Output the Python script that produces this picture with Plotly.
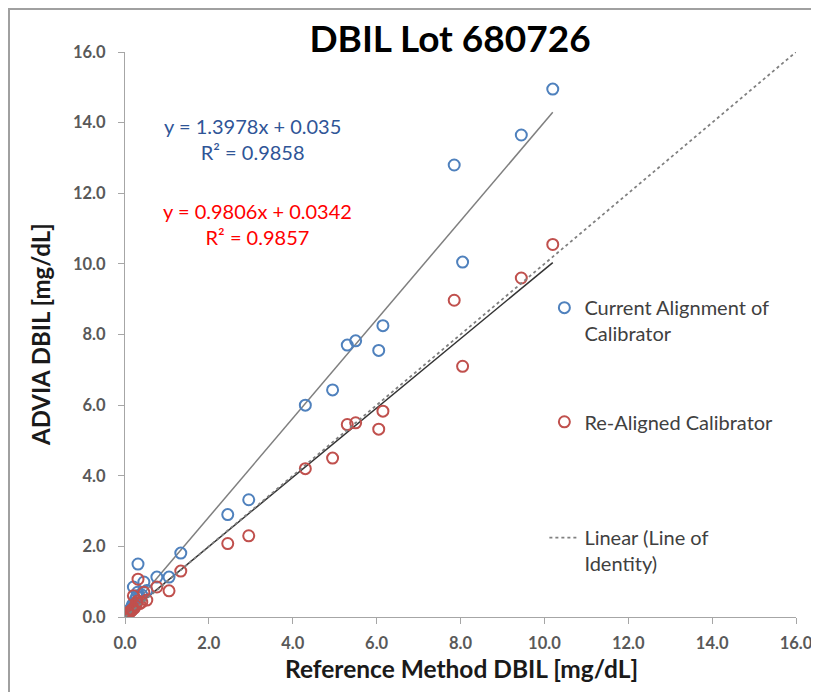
import plotly.graph_objects as go

# ---- data ----
ref_x = [10.2, 9.45, 7.85, 8.05, 6.15, 5.3, 5.5, 6.05, 4.95, 4.3, 2.95, 2.45, 1.33, 1.05, 0.76, 0.31,
         0.45, 0.2, 0.52, 0.05, 0.07, 0.08, 0.1, 0.12, 0.13, 0.15, 0.17, 0.18, 0.22, 0.25, 0.28, 0.3, 0.35, 0.4]
current_y = [14.95, 13.65, 12.8, 10.05, 8.25, 7.7, 7.82, 7.55, 6.43, 6.0, 3.32, 2.9, 1.81, 1.13, 1.13, 1.5,
             0.99, 0.85, 0.75, 0.1, 0.12, 0.15, 0.17, 0.2, 0.22, 0.25, 0.3, 0.35, 0.38, 0.5, 0.6, 0.7, 0.55, 0.62]
realigned_y = [10.55, 9.6, 8.97, 7.1, 5.83, 5.45, 5.5, 5.32, 4.5, 4.2, 2.3, 2.08, 1.3, 0.74, 0.85, 1.07,
               0.7, 0.6, 0.48, 0.08, 0.1, 0.12, 0.13, 0.15, 0.16, 0.18, 0.2, 0.22, 0.25, 0.32, 0.4, 0.45, 0.38, 0.42]

fit_current = (1.3978, 0.035, 0.9858)
fit_realigned = (0.9806, 0.0342, 0.9857)
identity_x = [0.0, 16.0]

tick_vals = [0, 2, 4, 6, 8, 10, 12, 14, 16]
tick_text = ["0.0", "2.0", "4.0", "6.0", "8.0", "10.0", "12.0", "14.0", "16.0"]

title_text = "DBIL Lot 680726"
x_title = "Reference Method DBIL [mg/dL]"
y_title = "ADVIA DBIL [mg/dL]"

BLUE = "#4F81BD"
RED = "#C0504D"
FONT = "Lato, 'Open Sans', sans-serif"

# page body has an 8px margin on every side; figure sized so the page does not overflow
OFF = 8
W, H = 819 - 2 * OFF, 700 - 2 * OFF
# target plot area in screen pixels: x 125..796, y 52..617
L, T = 125 - OFF, 52 - OFF
R = (OFF + W) - 796
B = (OFF + H) - 617
PW, PH = W - L - R, H - T - B

xmin, xmax = min(ref_x), max(ref_x)

fig = go.Figure()

# trendlines (no legend)
for (m, b, r2), col in [(fit_current, "#7F7F7F"), (fit_realigned, "#333333")]:
    fig.add_trace(go.Scatter(x=[xmin, xmax], y=[m * xmin + b, m * xmax + b], mode="lines",
                             line=dict(color=col, width=1.5), showlegend=False, hoverinfo="skip"))

fig.add_trace(go.Scatter(x=ref_x, y=current_y, mode="markers", name="Current Alignment of<br>Calibrator",
                         marker=dict(symbol="circle-open", size=11, color=BLUE, line=dict(width=2)),
                         legend="legend"))
fig.add_trace(go.Scatter(x=ref_x, y=realigned_y, mode="markers", name="Re-Aligned Calibrator",
                         marker=dict(symbol="circle-open", size=11, color=RED, line=dict(width=2)),
                         legend="legend2"))
fig.add_trace(go.Scatter(x=identity_x, y=identity_x, mode="lines", name="Linear (Line of<br>Identity)",
                         line=dict(color="#808080", width=1.8, dash="dot"), legend="legend3"))

axis_common = dict(range=[0, 16], tickvals=tick_vals, ticktext=tick_text, showgrid=False, zeroline=False,
                   showline=True, linecolor="#A6A6A6", linewidth=1.3, ticks="outside", ticklen=6,
                   tickcolor="#A6A6A6", automargin=False, ticklabeloverflow="allow",
                   tickfont=dict(family=FONT, size=16.5, color="#595959", weight="bold"))

leg_common = dict(font=dict(family=FONT, size=20, color="#404040"), bgcolor="rgba(0,0,0,0)",
                  xanchor="left", yanchor="top", valign="top", x=0.625)

fig.update_layout(
    width=W, height=H,
    margin=dict(l=L, r=R, t=T, b=B, autoexpand=False),
    paper_bgcolor="white", plot_bgcolor="white",
    title=dict(text="<b>" + title_text + "</b>", x=(450 - OFF) / W, xanchor="center",
               y=1 - (39 - OFF) / H, yanchor="middle", font=dict(family=FONT, size=37, color="black")),
    xaxis=dict(**axis_common, ticklabelstandoff=5),
    yaxis=dict(**axis_common, ticklabelstandoff=9),
    legend=dict(**leg_common, y=0.582),
    legend2=dict(**leg_common, y=0.38),
    legend3=dict(**leg_common, y=0.175),
    showlegend=True,
)

# axis titles (positions in screen px converted to plot-area fractions)
fig.add_annotation(x=(461 - 125) / PW, y=(617 - 668) / PH, xref="paper", yref="paper", showarrow=False,
                   text="<b>" + x_title + "</b>", xanchor="center", yanchor="middle",
                   font=dict(family=FONT, size=24.5, color="#1a1a1a"))
fig.add_annotation(x=(40 - 125) / PW, y=(617 - 335) / PH, xref="paper", yref="paper", showarrow=False,
                   text="<b>" + y_title + "</b>", textangle=-90, xanchor="center", yanchor="middle",
                   font=dict(family=FONT, size=24, color="#1a1a1a"))

# trendline equations
fig.add_annotation(x=3.05, y=14.3, xref="x", yref="y", showarrow=False, align="center",
                   text=f"y = {fit_current[0]:.4f}x + {fit_current[1]:.3f}<br>R² = {fit_current[2]:.4f}",
                   font=dict(family=FONT, size=20, color="#2F5597"), xanchor="center", yanchor="top")
fig.add_annotation(x=3.15, y=11.9, xref="x", yref="y", showarrow=False, align="center",
                   text=f"y = {fit_realigned[0]:.4f}x + {fit_realigned[1]:.4f}<br>R² = {fit_realigned[2]:.4f}",
                   font=dict(family=FONT, size=20, color="#FF0000"), xanchor="center", yanchor="top")

# outer frame (just inside the figure's top-left edge)
fig.add_shape(type="rect", xref="paper", yref="paper",
              x0=-(L - 1) / PW, x1=(W + 20 - L) / PW, y0=-(B + 20) / PH, y1=(PH + T - 1) / PH,
              line=dict(color="#A0A0A0", width=2), fillcolor="rgba(0,0,0,0)", layer="below")

fig.write_html("out.html")
